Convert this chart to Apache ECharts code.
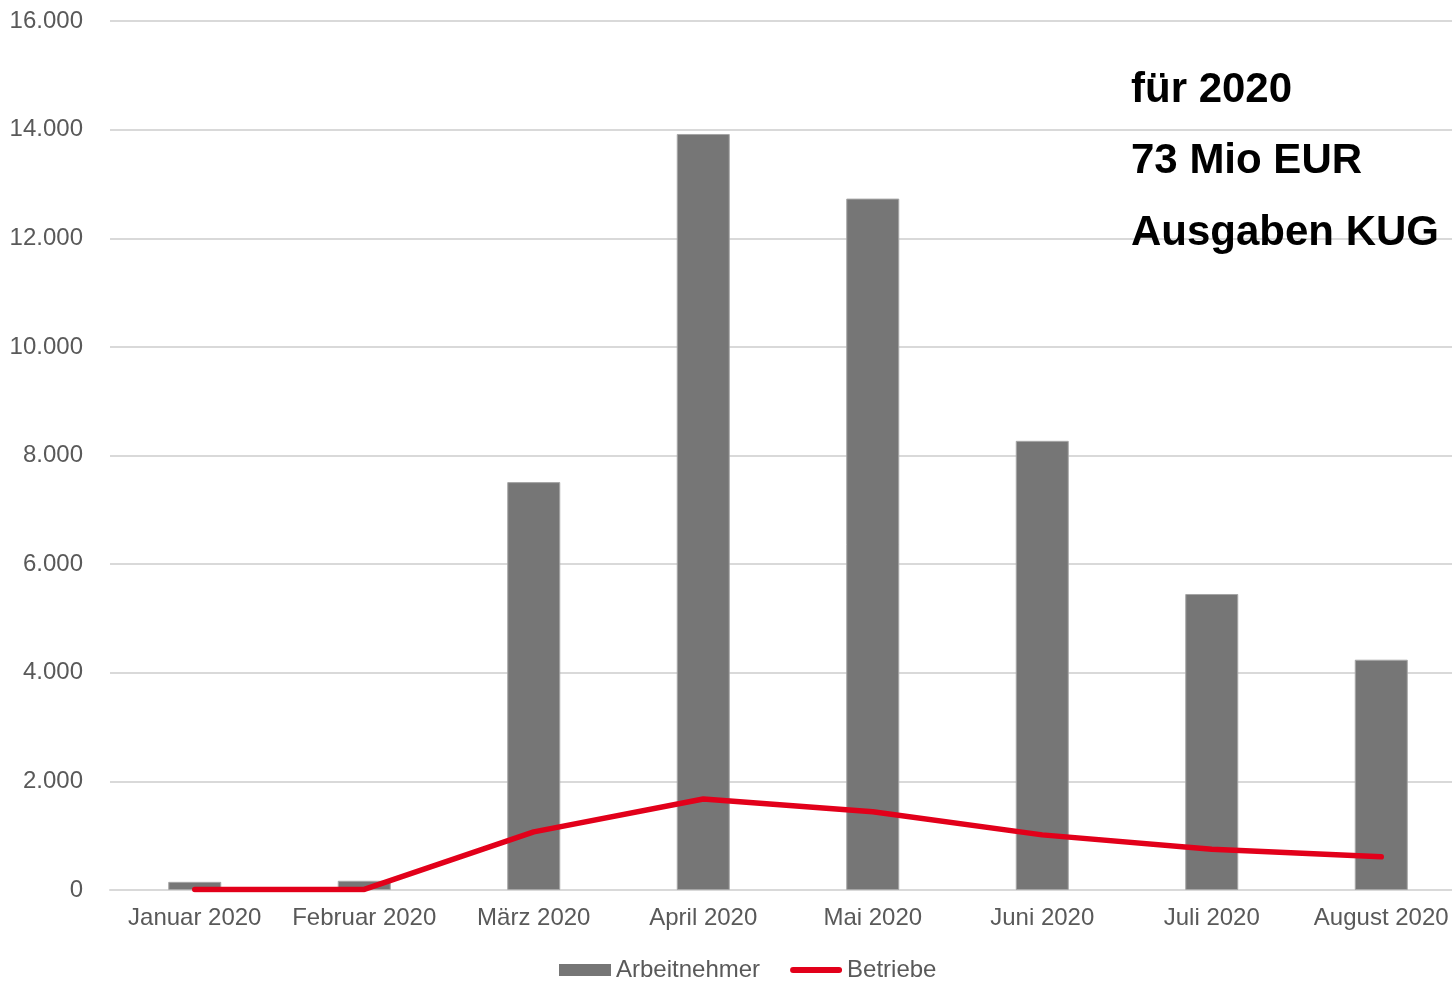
<!DOCTYPE html>
<html>
<head>
<meta charset="utf-8">
<script src="https://cdn.jsdelivr.net/npm/echarts@6/dist/echarts.min.js"></script>
<style>
html, body { margin:0; padding:0; background:#fff; overflow:hidden; }
#main { width:1466px; height:981px; }
</style>
</head>
<body>
<div id="main"></div>
<script>
// Monate
var months = ['Januar 2020','Februar 2020','März 2020','April 2020','Mai 2020','Juni 2020','Juli 2020','August 2020'];
// Arbeitnehmer (Balken)
var arbeitnehmer = [150, 170, 7510, 13920, 12730, 8270, 5450, 4240];
// Betriebe (Linie)
var betriebe = [10, 10, 1070, 1675, 1440, 1015, 750, 610];
var notes = ['für 2020', '73 Mio EUR', 'Ausgaben KUG'];

function fmt(v){
    return String(v).replace(/\B(?=(\d{3})+(?!\d))/g, '.');
}

var chart = echarts.init(document.getElementById('main'));
var font = 'Liberation Sans, Arial, sans-serif';

option = {
    animation: false,
    // Plotfläche läuft rechts etwas über den Bildrand hinaus
    grid: { left: 110, right: 0, top: 21, bottom: 91, containLabel: false },
    legend: {
        bottom: -6,
        left: 554,
        itemGap: 30,
        itemWidth: 52,
        itemHeight: 12,
        textStyle: { color: '#595959', fontSize: 24, fontFamily: font },
        data: [
            { name: 'Arbeitnehmer', icon: 'rect', itemStyle: { borderWidth: 0 } },
            { name: 'Betriebe', icon: 'path://M3,0 L49,0 A3,3 0 0 1 49,6 L3,6 A3,3 0 0 1 3,0 Z' }
        ]
    },
    xAxis: {
        type: 'category',
        data: months,
        axisLine: { lineStyle: { color: '#d9d9d9', width: 2 } },
        axisTick: { show: false },
        axisLabel: { color: '#595959', fontSize: 24, fontFamily: font, margin: 16, interval: 0 }
    },
    yAxis: {
        type: 'value',
        min: 0,
        max: 16000,
        interval: 2000,
        axisLine: { show: false },
        axisTick: { show: false },
        splitLine: { lineStyle: { color: '#d9d9d9', width: 2 } },
        axisLabel: {
            color: '#595959', fontSize: 24, fontFamily: font, margin: 27,
            formatter: function(v){ return fmt(v); }
        }
    },
    series: [
        {
            name: 'Arbeitnehmer',
            type: 'bar',
            data: arbeitnehmer,
            barWidth: 53,
            itemStyle: { color: '#767676', borderColor: '#a6a6a6', borderWidth: 1 }
        },
        {
            name: 'Betriebe',
            type: 'line',
            data: betriebe,
            symbol: 'none',
            smooth: false,
            lineStyle: { color: '#e2001a', width: 5.5, cap: 'round' },
            itemStyle: { color: '#e2001a' }
        }
    ],
    graphic: notes.map(function(t, i){
        return {
            type: 'text',
            left: 1131,
            top: 69 + i * 71.5,
            z: 100,
            style: {
                text: t,
                fill: '#000',
                font: 'bold 42px ' + font
            }
        };
    })
};
chart.setOption(option);
</script>
</body>
</html>
